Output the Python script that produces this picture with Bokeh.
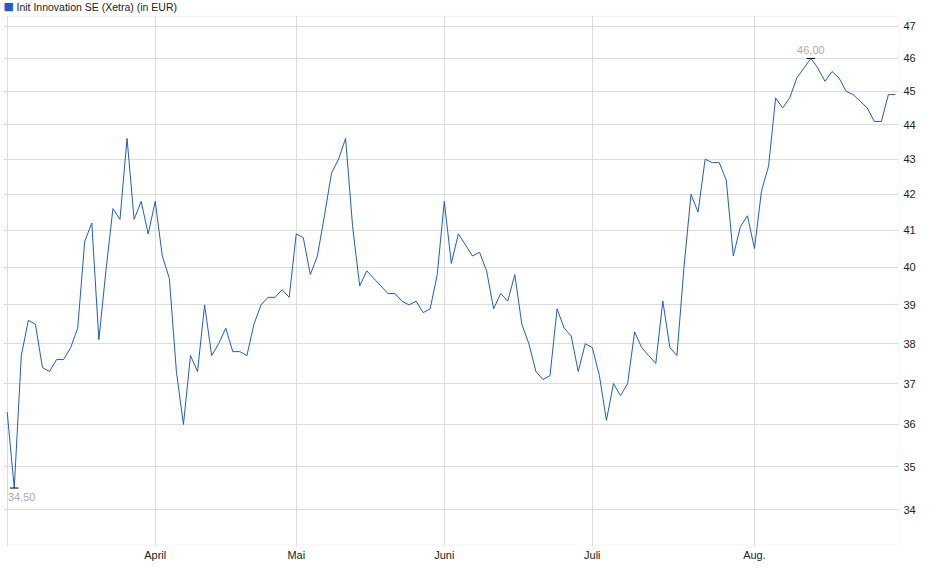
from bokeh.plotting import figure
from bokeh.models import Range1d, FixedTicker, PrintfTickFormatter, Label, BoxAnnotation
from bokeh.embed import file_html
from bokeh.resources import INLINE
from bokeh.core.properties import value

series_name = "Init Innovation SE (Xetra) (in EUR)"

# daily closing prices (trading days, 3 Mar 2025 .. 29 Aug 2025)
prices = [
    36.3, 34.5, 37.7, 38.6, 38.5, 37.4, 37.3, 37.6, 37.6, 37.9,
    38.4, 40.7, 41.2, 38.1, 39.9, 41.6, 41.3, 43.6, 41.3, 41.8,
    40.9, 41.8, 40.3, 39.7, 37.3, 36.0, 37.7, 37.3, 39.0, 37.7,
    38.0, 38.4, 37.8, 37.8, 37.7, 38.5, 39.0, 39.2, 39.2, 39.4,
    39.2, 40.9, 40.8, 39.8, 40.3, 41.4, 42.6, 43.0, 43.6, 41.1,
    39.5, 39.9, 39.7, 39.5, 39.3, 39.3, 39.1, 39.0, 39.1, 38.8,
    38.9, 39.8, 41.8, 40.1, 40.9, 40.6, 40.3, 40.4, 39.9, 38.9,
    39.3, 39.1, 39.8, 38.5, 38.0, 37.3, 37.1, 37.2, 38.9, 38.4,
    38.2, 37.3, 38.0, 37.9, 37.2, 36.1, 37.0, 36.7, 37.0, 38.3,
    37.9, 37.7, 37.5, 39.1, 37.9, 37.7, 40.0, 42.0, 41.5, 43.0,
    42.9, 42.9, 42.4, 40.3, 41.1, 41.4, 40.5, 42.1, 42.8, 44.8,
    44.5, 44.8, 45.4, 45.7, 46.0, 45.7, 45.3, 45.6, 45.4, 45.0,
    44.9, 44.7, 44.5, 44.1, 44.1, 44.9, 44.9,
]

month_labels = ["", "April", "Mai", "Juni", "Juli", "Aug."]
month_start_index = [0, 21, 41, 62, 83, 106]
y_ticks = [34, 35, 36, 37, 38, 39, 40, 41, 42, 43, 44, 45, 46, 47]

FONT = "Liberation Sans"
LINE_COLOR = "#1f5cc6"
GRID_COLOR = "#dcdcdc"
FRAME_COLOR = "#d0d0d0"
Y_MIN, Y_MAX = 33.22, 47.82      # full frame (legend strip included at top)
CHART_TOP = 47.315               # visible chart box top

idx = list(range(len(prices)))

p = figure(
    width=924, height=563,
    output_backend="svg", toolbar_location=None,
    y_axis_type="log", y_axis_location="right",
    x_range=Range1d(-0.525, 126.43),
    y_range=Range1d(Y_MIN, Y_MAX),
    min_border_left=3, min_border_right=26,
    min_border_top=0, min_border_bottom=18,
)
p.outline_line_color = None
p.background_fill_color = "white"
p.border_fill_color = "white"

# axes
p.xaxis.ticker = FixedTicker(ticks=month_start_index)
p.xaxis.major_label_overrides = {i: lab for i, lab in zip(month_start_index, month_labels)}
p.xaxis.major_tick_out = 2
p.xaxis.major_tick_in = 0
p.xaxis.major_tick_line_color = GRID_COLOR
p.xaxis.minor_tick_line_color = None
p.xaxis.axis_line_color = None
p.xaxis.major_label_standoff = 2
p.xaxis.major_label_text_font = FONT
p.xaxis.major_label_text_font_size = "11px"
p.xaxis.major_label_text_color = "#222222"

p.yaxis.ticker = FixedTicker(ticks=y_ticks)
p.yaxis.formatter = PrintfTickFormatter(format="%d")
p.yaxis.major_tick_out = 0
p.yaxis.major_tick_in = 0
p.yaxis.minor_tick_line_color = None
p.yaxis.axis_line_color = None
p.yaxis.major_label_standoff = 5
p.yaxis.major_label_text_font = FONT
p.yaxis.major_label_text_font_size = "11px"
p.yaxis.major_label_text_color = "#222222"

p.xgrid.grid_line_color = GRID_COLOR
p.ygrid.grid_line_color = GRID_COLOR

# price line
p.line(idx, prices, line_color=LINE_COLOR, line_width=1)

# min / max markers
i_min = prices.index(min(prices))
i_max = prices.index(max(prices))
v_min = prices[i_min]
v_max = prices[i_max]
p.segment(x0=[i_min - 0.6, i_max - 0.6], y0=[v_min, v_max],
          x1=[i_min + 0.6, i_max + 0.6], y1=[v_min, v_max],
          line_color="black", line_width=1)
p.text(x=[i_min - 0.9], y=[v_min], text=[f"{v_min:.2f}".replace(".", ",")],
       text_font=value(FONT), text_font_size="11px", text_color="#a9adb5",
       text_align="left", text_baseline="top", y_offset=5)
p.text(x=[i_max], y=[v_max], text=[f"{v_max:.2f}".replace(".", ",")],
       text_font=value(FONT), text_font_size="11px", text_color="#b5aa9f",
       text_align="center", text_baseline="bottom", y_offset=-4)

# white strip above the chart box (legend area) and chart box border
p.add_layout(BoxAnnotation(bottom=CHART_TOP, fill_color="white", fill_alpha=1.0,
                           line_alpha=0))
p.add_layout(BoxAnnotation(top=CHART_TOP, fill_alpha=0, line_color=FRAME_COLOR,
                           line_width=1))

# legend: coloured square + series name
p.add_layout(Label(x=0, y=538, x_units="screen", y_units="screen", text="\u25a0",
                   text_font="DejaVu Sans", text_font_size="11px", text_color=LINE_COLOR,
                   text_align="left", text_baseline="middle"))
p.add_layout(Label(x=13, y=538, x_units="screen", y_units="screen", text=series_name,
                   text_font=FONT, text_font_size="10.5px", text_color="#222222",
                   text_align="left", text_baseline="middle"))

open("out.html", "w").write(file_html(p, INLINE))
